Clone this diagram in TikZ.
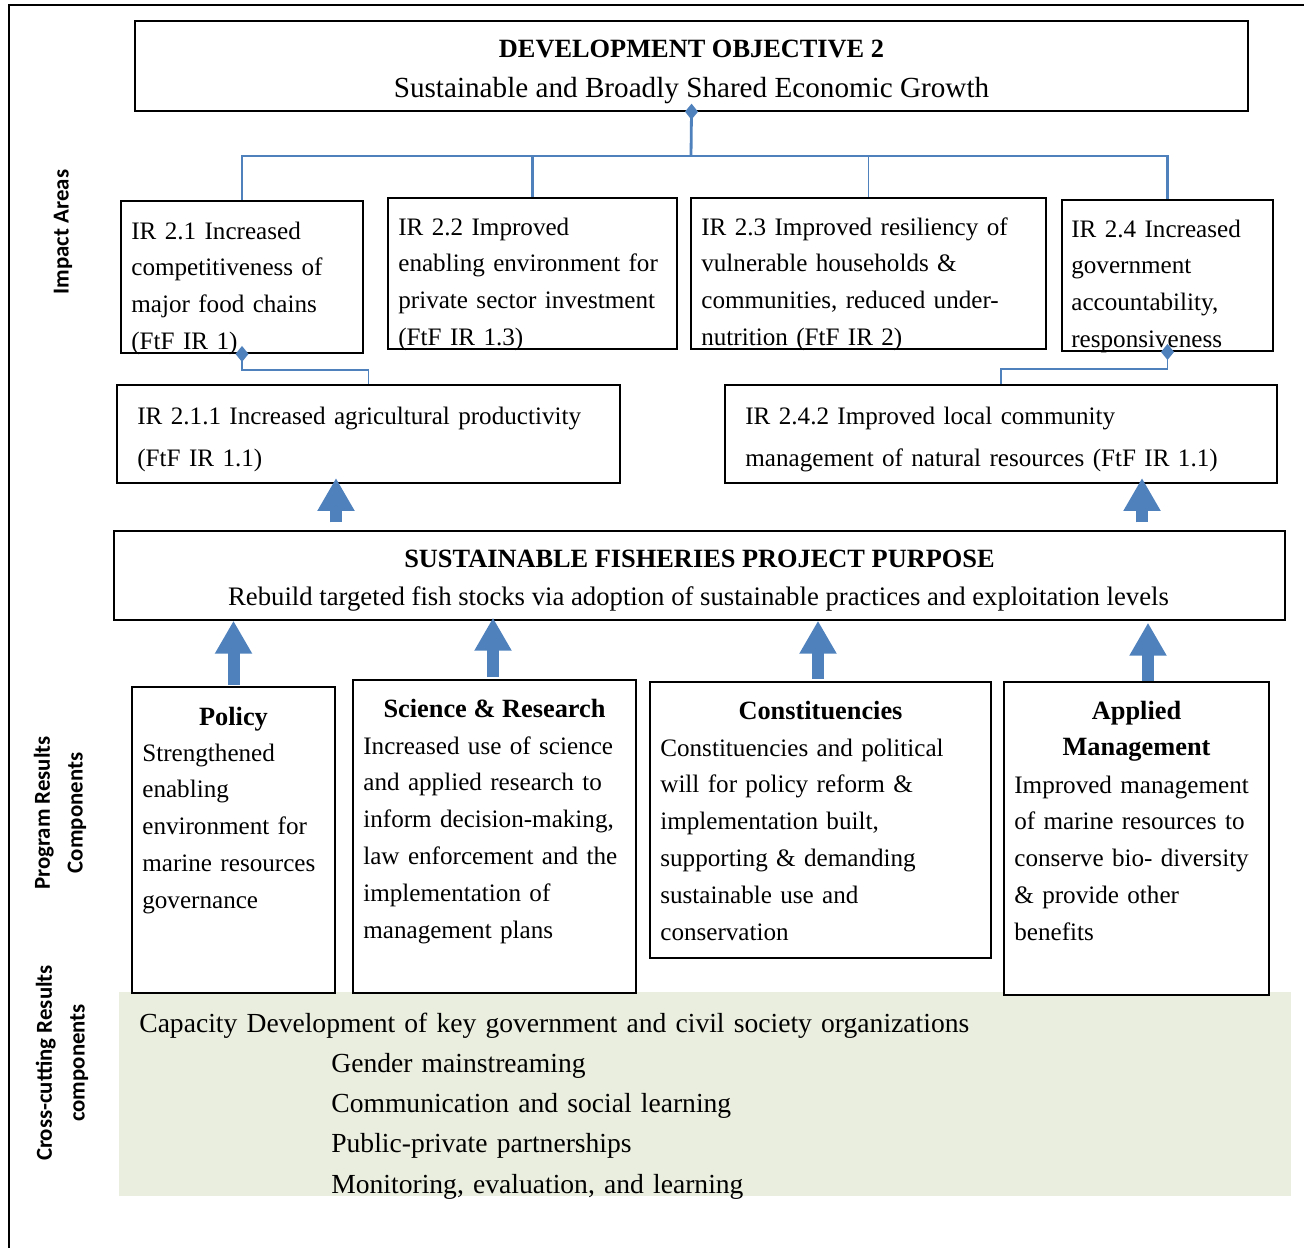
\documentclass[tikz,border=0pt]{standalone}
\usepackage{fontspec}
\setmainfont{Liberation Serif}
\newfontfamily\sidelabelfont{Carlito}
\usetikzlibrary{positioning,arrows.meta}
\definecolor{linkblue}{RGB}{79,129,189}
\definecolor{crossfill}{RGB}{234,238,222}

\tikzset{
  irbox/.style={draw, line width=1.1pt, fill=white, inner sep=0},
  headbox/.style={draw, line width=0.8pt, fill=white, inner sep=0},
  boxtext/.style={anchor=base west, inner sep=0, text width=20cm, align=left, font=\fontsize{14.3}{21}\selectfont},
  boxtitle/.style={anchor=base, inner sep=0, font=\bfseries\fontsize{15}{21}\selectfont},
  link/.style={draw=linkblue, line width=1.6pt},
  thinlink/.style={draw=linkblue, line width=0.9pt},
  tiplink/.style={{Diamond[length=0.32cm,width=0.26cm]}-, shorten <=-0.16cm},
  bigarrow/.style={draw=linkblue, line width=0.24cm, -{Triangle[length=0.66cm,width=0.7cm]}},
  sidelabel/.style={rotate=90, align=center, inner sep=0, font=\sidelabelfont\bfseries\fontsize{13}{18.7}\selectfont}
}

\begin{document}
\begin{tikzpicture}[x=0.02cm, y=-0.02cm]
  \useasboundingbox (0,0) rectangle (1304,1248);
  \draw[line width=1.2pt] (1304,5) -- (9,5) -- (9,1248);

  % side labels
  \node[sidelabel] (impact) at (63,232) {Impact Areas};
  \node[sidelabel] (program) at (60,813) {Program Results\\Components};
  \node[sidelabel] (crosscut) at (62,1063) {Cross-cutting Results\\components};

  % development objective
  \node[headbox, minimum width=22.26cm, minimum height=1.8cm] (do) at (691.5,66) {};
  \node[boxtitle] (do-title) at (691.5,57) {DEVELOPMENT OBJECTIVE 2};
  \node[anchor=base, inner sep=0, font=\fontsize{16.6}{20}\selectfont] (do-sub) at (691.5,97) {Sustainable and Broadly Shared Economic Growth};

  % impact areas
  \node[irbox, minimum width=4.84cm, minimum height=3.04cm] (ir21) at (242,277) {};
  \node[irbox, minimum width=5.78cm, minimum height=3.02cm] (ir22) at (532.5,273.5) {};
  \node[irbox, minimum width=7.1cm, minimum height=3.02cm] (ir23) at (868.5,273.5) {};
  \node[irbox, minimum width=4.22cm, minimum height=3.02cm] (ir24) at (1167.5,275.5) {};
  \node[boxtext] (ir21-text) at (131,239) {IR 2.1 Increased\\competitiveness of\\major food chains\\(FtF IR 1)};
  \node[boxtext] (ir22-text) at (398,235) {IR 2.2 Improved\\enabling environment for\\private sector investment\\(FtF IR 1.3)};
  \node[boxtext] (ir23-text) at (701,235) {IR 2.3 Improved resiliency of\\vulnerable households \&\\communities, reduced under-\\nutrition (FtF IR 2)};
  \node[boxtext] (ir24-text) at (1071,237) {IR 2.4 Increased\\government\\accountability,\\responsiveness};

  \coordinate (hub) at (691,156);
  \draw[link, tiplink] (do.south) -- (hub);
  \draw[link] (ir21.north) |- (hub) -| (ir24.north);
  \draw[link] (hub) -| (ir22.north);
  \draw[thinlink] (hub) -| (ir23.north);

  \node[irbox, minimum width=10.06cm, minimum height=1.96cm] (ir211) at (368.5,434) {};
  \node[irbox, minimum width=11.04cm, minimum height=1.96cm] (ir242) at (1001,434) {};
  \node[boxtext, font=\fontsize{14.3}{24}\selectfont] (ir211-text) at (137,424) {IR 2.1.1 Increased agricultural productivity\\(FtF IR 1.1)};
  \node[boxtext, font=\fontsize{14.3}{24}\selectfont] (ir242-text) at (745,424) {IR 2.4.2 Improved local community\\management of natural resources (FtF IR 1.1)};

  \draw[thinlink, tiplink] (ir21.south) -- ++(0,16) -| (ir211.north);
  \draw[thinlink, tiplink] (ir24.south) -- ++(0,17) -| (ir242.north);

  % project purpose
  \node[headbox, minimum width=23.42cm, minimum height=1.78cm] (purpose) at (699.5,575.5) {};
  \node[boxtitle] (purpose-title) at (699.5,567) {SUSTAINABLE FISHERIES PROJECT PURPOSE};
  \node[anchor=base, inner sep=0, font=\fontsize{15.2}{20}\selectfont] (purpose-sub) at (698.5,605) {Rebuild targeted fish stocks via adoption of sustainable practices and exploitation levels};

  \draw[bigarrow, shorten <=0.16cm, shorten >=-0.12cm] (purpose.north -| 336,0) -- (ir211.south -| 336,0);
  \draw[bigarrow, shorten <=0.16cm, shorten >=-0.12cm] (purpose.north -| 1142,0) -- (ir242.south -| 1142,0);

  % cross-cutting
  \node[fill=crossfill, minimum width=23.44cm, minimum height=4.08cm, inner sep=0] (cross) at (705,1094) {};
  \node[boxtext, font=\fontsize{15.7}{23}\selectfont] (cross-cap) at (139,1032) {Capacity Development of key government and civil society organizations};
  \node[boxtext, font=\fontsize{15.7}{23}\selectfont] (cross-list) at (331,1072) {Gender mainstreaming\\Communication and social learning\\Public-private partnerships\\Monitoring, evaluation, and learning};

  % program results components
  \node[irbox, minimum width=4.06cm, minimum height=6.12cm] (policy) at (233.5,840) {};
  \node[irbox, minimum width=5.66cm, minimum height=6.26cm] (science) at (494.5,836.5) {};
  \node[irbox, minimum width=6.82cm, minimum height=5.52cm] (constit) at (820.5,820) {};
  \node[irbox, minimum width=5.3cm, minimum height=6.26cm] (applied) at (1136.5,838.5) {};

  \node[boxtitle] (policy-title) at (233.5,725) {Policy};
  \node[boxtext] (policy-text) at (142,761) {Strengthened\\enabling\\environment for\\marine resources\\governance};
  \node[boxtitle] (science-title) at (494.5,717) {Science \& Research};
  \node[boxtext] (science-text) at (363,754) {Increased use of science\\and applied research to\\inform decision-making,\\law enforcement and the\\implementation of\\management plans};
  \node[boxtitle] (constit-title) at (820.5,719) {Constituencies};
  \node[boxtext] (constit-text) at (660,756) {Constituencies and political\\will for policy reform \&\\implementation built,\\supporting \& demanding\\sustainable use and\\conservation};
  \node[boxtitle, text width=5cm, align=center] (applied-title) at (1136.5,719) {Applied\\Management};
  \node[boxtext] (applied-text) at (1014,793) {Improved management\\of marine resources to\\conserve bio- diversity\\\& provide other\\benefits};

  \draw[bigarrow, shorten <=0.02cm] (policy.north) -- (purpose.south -| policy.north);
  \draw[bigarrow, shorten <=0.04cm, shorten >=-0.06cm] (science.north -| 493,0) -- (purpose.south -| 493,0);
  \draw[bigarrow, shorten <=0.04cm] (constit.north -| 818,0) -- (purpose.south -| 818,0);
  \draw[bigarrow, shorten >=0.04cm] (applied.north -| 1148,0) -- (purpose.south -| 1148,0);
\end{tikzpicture}
\end{document}
